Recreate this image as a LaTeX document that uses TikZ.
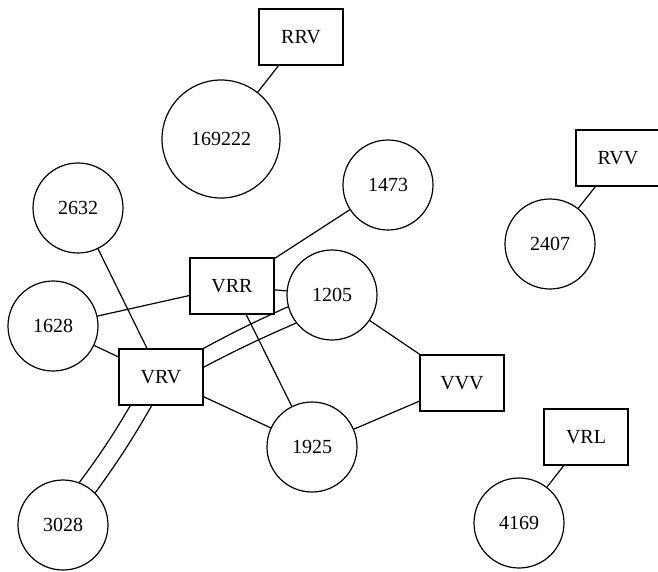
\documentclass[tikz,border=0pt]{standalone}
\usepackage{fontspec}
\setmainfont{Liberation Serif}
\begin{document}
\begin{tikzpicture}[x=1pt,y=-1pt,
  every node/.style={font=\fontsize{20}{24}\selectfont, line width=1.2pt, draw, inner sep=0pt},
  boxnode/.style={rectangle, minimum width=84pt, minimum height=56pt},
  roundnode/.style={circle, minimum size=90pt},
  bignode/.style={circle, minimum size=118pt},
  link/.style={line width=1.2pt}]
\useasboundingbox (0,0) rectangle (658,571);
\clip (0,0) rectangle (658,571);

% rectangles
\node[boxnode] (RRV) at (301,37) {RRV};
\node[boxnode] (RVV) at (618,158) {RVV};
\node[boxnode] (VRR) at (232,286) {VRR};
\node[boxnode] (VRV) at (161,377) {VRV};
\node[boxnode] (VVV) at (462,383) {VVV};
\node[boxnode] (VRL) at (586,437) {VRL};

% circles
\node[bignode] (n169222) at (221,139) {169222};
\node[roundnode] (n2407) at (550,244) {2407};
\node[roundnode] (n1473) at (388,185) {1473};
\node[roundnode] (n2632) at (78,208) {2632};
\node[roundnode] (n1205) at (332,295) {1205};
\node[roundnode] (n1628) at (53,326) {1628};
\node[roundnode] (n1925) at (312,447) {1925};
\node[roundnode] (n3028) at (63,525) {3028};
\node[roundnode] (n4169) at (519,523) {4169};

% connectors
\draw[link] (RRV) -- (n169222);
\draw[link] (RVV) -- (n2407);
\draw[link] (VRL) -- (n4169);
\draw[link] (n1473) -- (VRR);
\draw[link] (n2632) -- (VRV);
\draw[link] (n1628) -- (VRR);
\draw[link] (n1628) -- (VRV);
\draw[link] (VRR) -- (n1205);
\draw[link] (VRR) -- (n1925);
% paired links
\draw[link] (VRV.34) to[bend left=2] (n1205.195);
\draw[link] (VRV.13) to[bend left=2] (n1205.218);
\draw[link] (VRV.223) to[bend left=3] (n3028.69);
\draw[link] (VRV.252) to[bend left=3] (n3028.45);
\draw[link] (VRV) -- (n1925);
\draw[link] (n1205) -- (VVV);
\draw[link] (n1925) -- (VVV);
\end{tikzpicture}
\end{document}
